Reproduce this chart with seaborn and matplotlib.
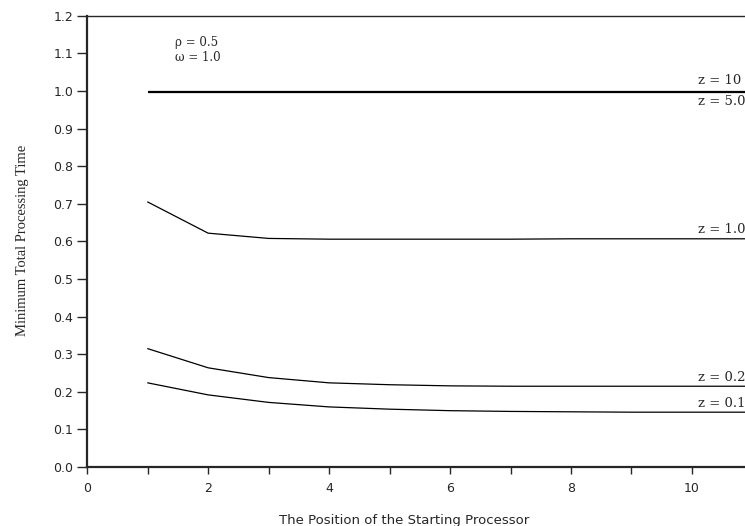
# Minimum total processing time vs. position of the starting processor

import pandas as pd
import matplotlib.pyplot as plt
import seaborn as sns
from matplotlib.ticker import MultipleLocator

# values
positions = [1, 2, 3, 4, 5, 6, 7, 8, 9, 10, 11]
z_10 = [1.0, 1.0, 1.0, 1.0, 1.0, 1.0, 1.0, 1.0, 1.0, 1.0, 1.0]
z_5 = [0.998, 0.998, 0.998, 0.998, 0.998, 0.998, 0.998, 0.998, 0.998, 0.998, 0.998]
z_1 = [0.705, 0.622, 0.608, 0.606, 0.606, 0.606, 0.606, 0.607, 0.607, 0.607, 0.607]
z_02 = [0.315, 0.264, 0.238, 0.224, 0.219, 0.216, 0.215, 0.215, 0.215, 0.215, 0.215]
z_01 = [0.224, 0.192, 0.172, 0.160, 0.154, 0.150, 0.148, 0.147, 0.146, 0.146, 0.146]

curve_names = ["z = 10", "z = 5.0", "z = 1.0", "z = 0.2", "z = 0.1"]
curve_values = [z_10, z_5, z_1, z_02, z_01]

# label positions next to the curves (right edge)
label_y = [1.027, 0.971, 0.633, 0.239, 0.170]

rows = []
for name, vals in zip(curve_names, curve_values):
    for p, v in zip(positions, vals):
        rows.append({"Position": p, "Time": v, "curve": name})
data = pd.DataFrame(rows)

sns.set_style("ticks")
plt.rcParams['font.family'] = ['DejaVu Sans']

fig = plt.figure(figsize=(7.45, 5.26), dpi=100)
ax = fig.add_axes([0.117, 0.112, 0.893, 0.858])

sns.lineplot(x="Position", y="Time", data=data, units="curve",
             estimator=None, color="black", linewidth=0.9, ax=ax)

ax.set_xlim(0, 11)
ax.set_ylim(0, 1.2)
ax.xaxis.set_major_locator(MultipleLocator(2))
ax.xaxis.set_minor_locator(MultipleLocator(1))
ax.yaxis.set_major_locator(MultipleLocator(0.1))
ax.set_yticklabels([f"{t:.1f}" for t in ax.get_yticks()])
ax.tick_params(axis="y", direction="out", length=7, width=1, labelsize=9, pad=3)
ax.tick_params(axis="x", which="both", direction="out", length=5, width=1,
               labelsize=9, pad=6)

for side in ["left", "bottom"]:
    ax.spines[side].set_linewidth(1.6)
ax.spines["top"].set_linewidth(1.0)
ax.spines["right"].set_visible(False)

ax.set_xlabel("The Position of the Starting Processor", fontsize=9.5)
ax.xaxis.set_label_coords(0.476, -0.105)
ax.set_ylabel("Minimum Total Processing Time", fontsize=10.5,
              family="Liberation Serif")
ax.yaxis.set_label_coords(-0.088, 0.503)

for name, y in zip(curve_names, label_y):
    ax.text(10.1, y, name, fontsize=9.5, family="DejaVu Serif",
            va="center", ha="left")

ax.text(1.45, 1.128, "ρ = 0.5", fontsize=8.5, family="DejaVu Serif",
        va="center", ha="left")
ax.text(1.45, 1.09, "ω = 1.0", fontsize=8.5, family="DejaVu Serif",
        va="center", ha="left")

plt.savefig("out.png", dpi=100)
